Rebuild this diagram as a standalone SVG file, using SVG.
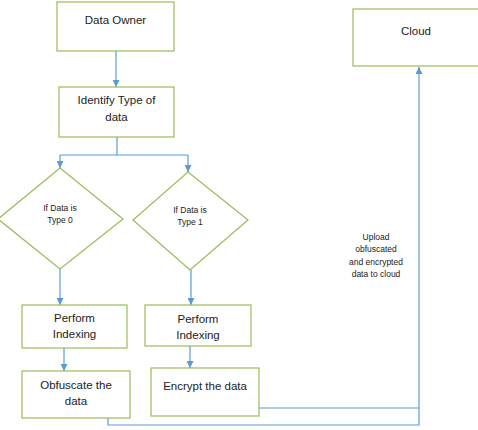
<svg xmlns="http://www.w3.org/2000/svg" width="478" height="430" viewBox="0 0 478 430">
<style>
.box{fill:#fff;stroke:#9bbb59;stroke-width:1.2}
.t{font-family:"Liberation Sans",Arial,sans-serif;font-size:11.5px;fill:#222;text-anchor:middle}
.s{font-family:"Liberation Sans",Arial,sans-serif;font-size:8.5px;fill:#222;text-anchor:middle}
.c{fill:none;stroke:#5b9bd5;stroke-width:1.2}
</style>
<defs>
<marker id="a" viewBox="0 0 10 10" refX="10" refY="5" markerWidth="7" markerHeight="7" markerUnits="userSpaceOnUse" orient="auto">
<path d="M0,0 L10,5 L0,10 z" fill="#5b9bd5"/>
</marker>
</defs>
<rect width="478" height="430" fill="#fff"/>
<g id="connectors">
<path class="c" d="M116,51 V87" marker-end="url(#a)"/>
<path class="c" d="M117,137 V155"/>
<path class="c" d="M60,155 H188"/>
<path class="c" d="M60,155 V168" marker-end="url(#a)"/>
<path class="c" d="M188,155 V172" marker-end="url(#a)"/>
<path class="c" d="M60,269 V305" marker-end="url(#a)"/>
<path class="c" d="M191,270 V305" marker-end="url(#a)"/>
<path class="c" d="M64,348 V371" marker-end="url(#a)"/>
<path class="c" d="M190,346 V368" marker-end="url(#a)"/>
<path class="c" d="M108,418 V425 H419 V67" marker-end="url(#a)"/>
<path class="c" d="M259,408 H419"/>
</g>
<g id="data-owner">
<rect class="box" x="57" y="2" width="117" height="49"/>
<text class="t" x="115.5" y="24">Data Owner</text>
</g>
<g id="identify">
<rect class="box" x="59" y="87" width="115" height="50"/>
<text class="t" x="116.5" y="104">Identify Type of</text>
<text class="t" x="116.5" y="121">data</text>
</g>
<g id="type0">
<polygon class="box" points="60,168 123,219 60,269 -2,219"/>
<text class="s" x="60" y="211">If Data is</text>
<text class="s" x="60" y="223">Type 0</text>
</g>
<g id="type1">
<polygon class="box" points="188,172 248,220 190,270 133,220"/>
<text class="s" x="190" y="213">If Data is</text>
<text class="s" x="190" y="225">Type 1</text>
</g>
<g id="index0">
<rect class="box" x="22" y="305" width="105" height="43"/>
<text class="t" x="74.5" y="322">Perform</text>
<text class="t" x="74.5" y="338">Indexing</text>
</g>
<g id="index1">
<rect class="box" x="145" y="305" width="106" height="41"/>
<text class="t" x="198" y="323">Perform</text>
<text class="t" x="198" y="339">Indexing</text>
</g>
<g id="obfuscate">
<rect class="box" x="22" y="371" width="108" height="47"/>
<text class="t" x="76" y="389">Obfuscate the</text>
<text class="t" x="76" y="405">data</text>
</g>
<g id="encrypt">
<rect class="box" x="151" y="368" width="108" height="48"/>
<text class="t" x="205" y="390">Encrypt the data</text>
</g>
<g id="cloud">
<rect class="box" x="353" y="9" width="130" height="57"/>
<text class="t" x="416" y="35">Cloud</text>
</g>
<g id="upload-label">
<text class="s" x="376" y="240">Upload</text>
<text class="s" x="376" y="252">obfuscated</text>
<text class="s" x="376" y="265">and encrypted</text>
<text class="s" x="376" y="277">data to cloud</text>
</g>
</svg>
